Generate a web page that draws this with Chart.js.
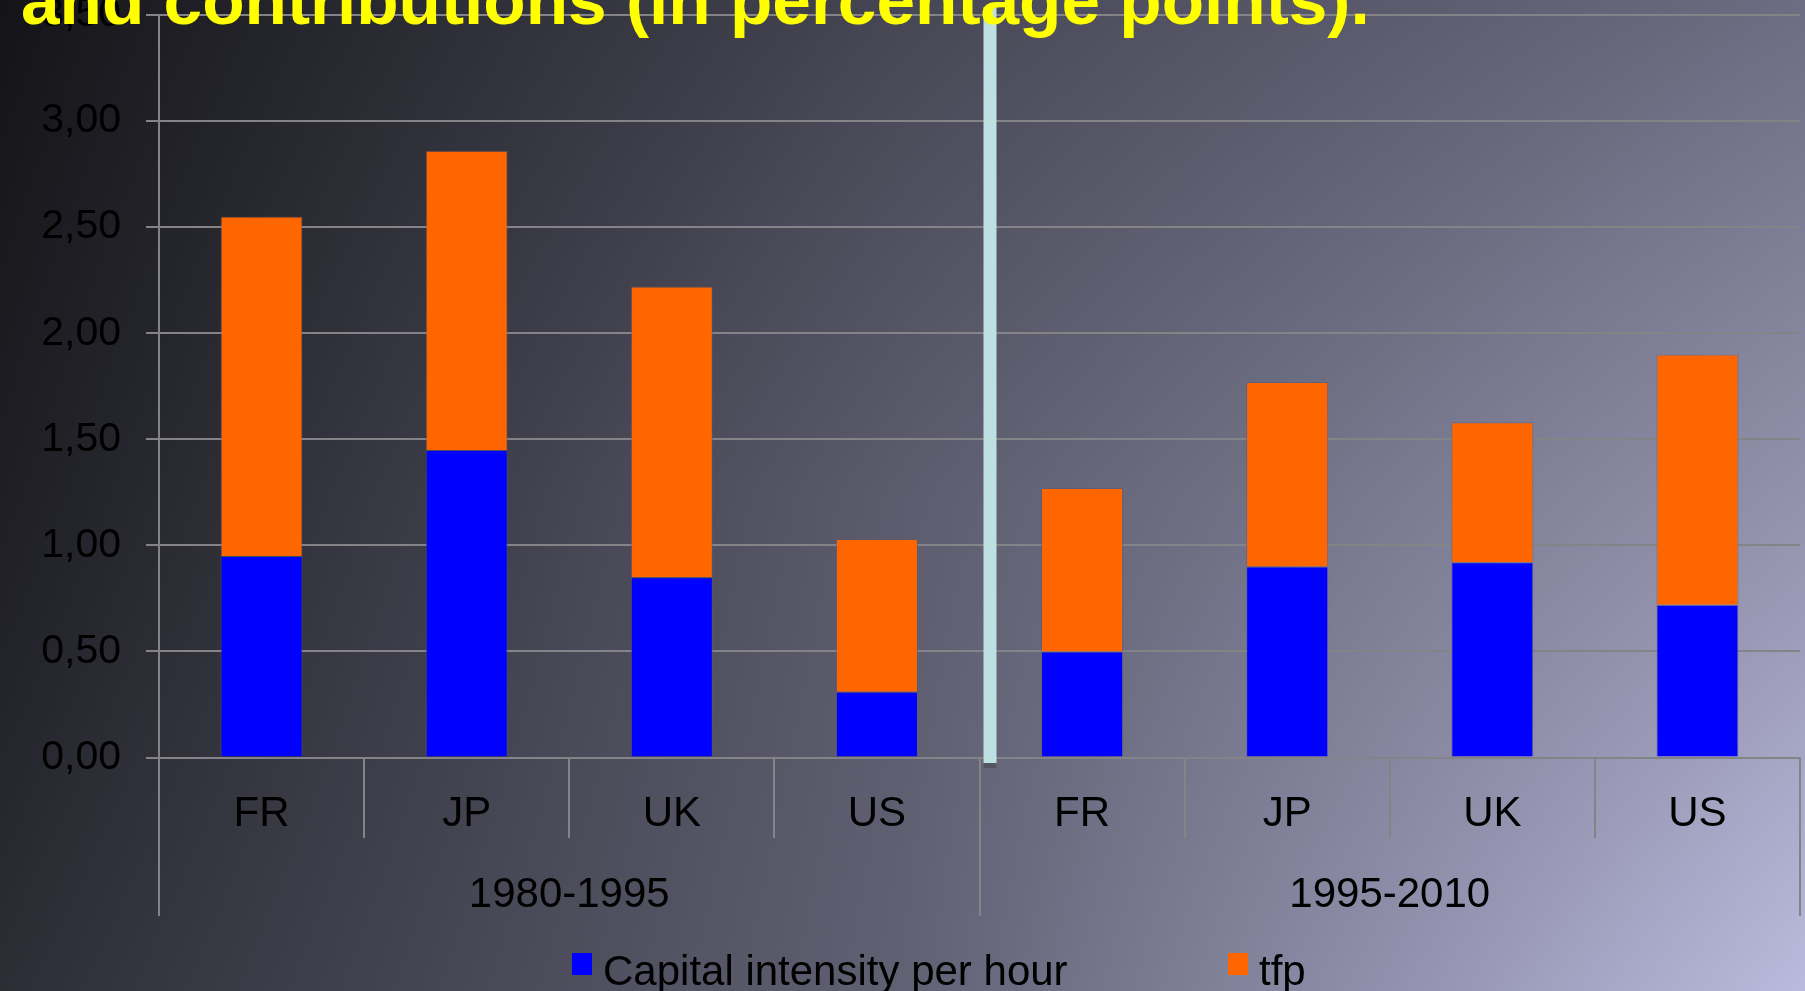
<!DOCTYPE html>
<html>
<head>
<meta charset="utf-8">
<style>
  html, body { margin: 0; padding: 0; background: #1e1e24; overflow: hidden; }
  canvas { display: block; }
</style>
<script src="https://cdn.jsdelivr.net/npm/chart.js@4.4.1/dist/chart.umd.min.js"></script>
</head>
<body>
<canvas id="c" width="1805" height="991"></canvas>
<script>
// ---- data ----
const categories = ['FR', 'JP', 'UK', 'US', 'FR', 'JP', 'UK', 'US'];
const groups = ['1980-1995', '1995-2010'];
const groupSize = 4;
const capitalIntensity = [0.95, 1.45, 0.85, 0.31, 0.50, 0.90, 0.92, 0.72];
const tfp = [1.60, 1.41, 1.37, 0.72, 0.77, 0.87, 0.66, 1.18];
const yTickLabels = ['0,00', '0,50', '1,00', '1,50', '2,00', '2,50', '3,00', '3,50'];
const seriesNames = ['Capital intensity per hour', 'tfp'];
const titleText = 'and contributions (in percentage points).';

const W = 1805, H = 991;
const FONT = "'Liberation Sans', Arial, Helvetica, sans-serif";
const GRID = '#838388';

// background: bilinear blend of a 3x3 colour grid
const bgGrid = [
  [[20, 20, 24], [70, 70, 84], [108, 108, 130]],
  [[30, 30, 36], [92, 92, 110], [146, 146, 172]],
  [[44, 45, 53], [97, 97, 116], [186, 186, 222]]
];
let bgCanvas = null;
function buildBg() {
  const off = document.createElement('canvas');
  off.width = W; off.height = H;
  const octx = off.getContext('2d');
  const img = octx.createImageData(W, H);
  const d = img.data;
  for (let y = 0; y < H; y++) {
    const fy = (y / (H - 1)) * 2;
    const r0 = Math.min(1, Math.floor(fy)), ty = fy - r0;
    for (let x = 0; x < W; x++) {
      const fx = (x / (W - 1)) * 2;
      const c0 = Math.min(1, Math.floor(fx)), tx = fx - c0;
      const p = (y * W + x) * 4;
      for (let k = 0; k < 3; k++) {
        const a = bgGrid[r0][c0][k] * (1 - tx) + bgGrid[r0][c0 + 1][k] * tx;
        const b = bgGrid[r0 + 1][c0][k] * (1 - tx) + bgGrid[r0 + 1][c0 + 1][k] * tx;
        d[p + k] = a * (1 - ty) + b * ty;
      }
      d[p + 3] = 255;
    }
  }
  octx.putImageData(img, 0, 0);
  bgCanvas = off;
}
buildBg();

const decorPlugin = {
  id: 'decor',
  beforeDraw(chart) {
    const ctx = chart.ctx;
    ctx.save();
    ctx.drawImage(bgCanvas, 0, 0);
    ctx.restore();
  },
  afterDraw(chart) {
    const ctx = chart.ctx;
    const xs = chart.scales.x;
    const area = chart.chartArea;
    const axisY = area.bottom;
    ctx.save();
    ctx.strokeStyle = GRID;
    ctx.lineWidth = 2;
    // category separators and group dividers
    for (let i = 0; i <= categories.length; i++) {
      const bx = Math.round(xs.getPixelForValue(i - 0.5));
      const isGroupEdge = (i % groupSize === 0);
      ctx.beginPath();
      ctx.moveTo(bx, axisY);
      ctx.lineTo(bx, isGroupEdge ? 916 : 838);
      ctx.stroke();
    }
    // group labels
    ctx.fillStyle = '#000';
    ctx.font = '42px ' + FONT;
    ctx.textAlign = 'center';
    ctx.textBaseline = 'middle';
    groups.forEach((g, gi) => {
      const cx = xs.getPixelForValue(gi * groupSize + (groupSize - 1) / 2);
      ctx.fillText(g, cx, 895);
    });
    // period separator bar
    const sepX = xs.getPixelForValue(groupSize - 0.5) + 10.5;
    ctx.fillStyle = '#bde1e3';
    ctx.fillRect(sepX - 6.5, 7, 13, axisY + 6 - 7);
    ctx.fillStyle = '#55555f';
    ctx.fillRect(sepX - 6.5, axisY + 5.5, 13, 5);
    // legend
    const legendItems = chart.data.datasets.map(ds => ({ text: ds.label, color: ds.backgroundColor }));
    const legendBoxX = [572, 1228];
    ctx.font = '42px ' + FONT;
    ctx.textAlign = 'left';
    ctx.textBaseline = 'alphabetic';
    legendItems.forEach((it, i) => {
      ctx.fillStyle = it.color;
      ctx.fillRect(legendBoxX[i], 953, 20, 22);
      ctx.fillStyle = '#000';
      ctx.fillText(it.text, legendBoxX[i] + 31, 985);
    });
    // title (cropped at the top, as in the slide)
    ctx.font = 'bold 100px ' + FONT;
    const w100 = ctx.measureText(titleText).width;
    const size = 100 * 1349 / w100;
    ctx.font = 'bold ' + size.toFixed(2) + 'px ' + FONT;
    ctx.fillStyle = '#ffff00';
    ctx.fillText(titleText, 21, 24);
    ctx.restore();
  }
};

new Chart(document.getElementById('c'), {
  type: 'bar',
  data: {
    labels: categories,
    datasets: [
      {
        label: seriesNames[0],
        data: capitalIntensity,
        backgroundColor: '#0000ff',
        borderColor: 'rgba(90,90,120,0.55)',
        borderWidth: 1
      },
      {
        label: seriesNames[1],
        data: tfp,
        backgroundColor: '#ff6600',
        borderColor: 'rgba(90,90,120,0.55)',
        borderWidth: 1
      }
    ]
  },
  options: {
    responsive: false,
    animation: false,
    devicePixelRatio: 1,
    layout: { padding: { top: 15, right: 5, left: 0, bottom: 0 } },
    plugins: {
      legend: { display: false },
      title: { display: false },
      tooltip: { enabled: false }
    },
    datasets: {
      bar: { categoryPercentage: 1.0, barPercentage: 0.4 }
    },
    scales: {
      x: {
        stacked: true,
        offset: true,
        grid: { display: false, drawTicks: false },
        border: { display: true, color: GRID, width: 2 },
        ticks: {
          color: '#000',
          font: { family: FONT, size: 42 },
          padding: 32,
          maxRotation: 0,
          autoSkip: false
        },
        afterFit(scale) {
          scale.height = H - 757.5;
          scale.paddingLeft = 0;
          scale.paddingRight = 0;
        }
      },
      y: {
        stacked: true,
        min: 0,
        max: 3.5,
        ticks: {
          stepSize: 0.5,
          color: '#000',
          font: { family: FONT, size: 41 },
          padding: 25,
          callback: (v, i) => yTickLabels[i]
        },
        grid: { color: GRID, lineWidth: 2, tickLength: 13, drawTicks: true },
        border: { display: true, color: GRID, width: 2 },
        afterFit(scale) {
          scale.width = 159;
          scale.paddingTop = 0;
          scale.paddingBottom = 0;
        }
      }
    }
  },
  plugins: [decorPlugin]
});
</script>
</body>
</html>
